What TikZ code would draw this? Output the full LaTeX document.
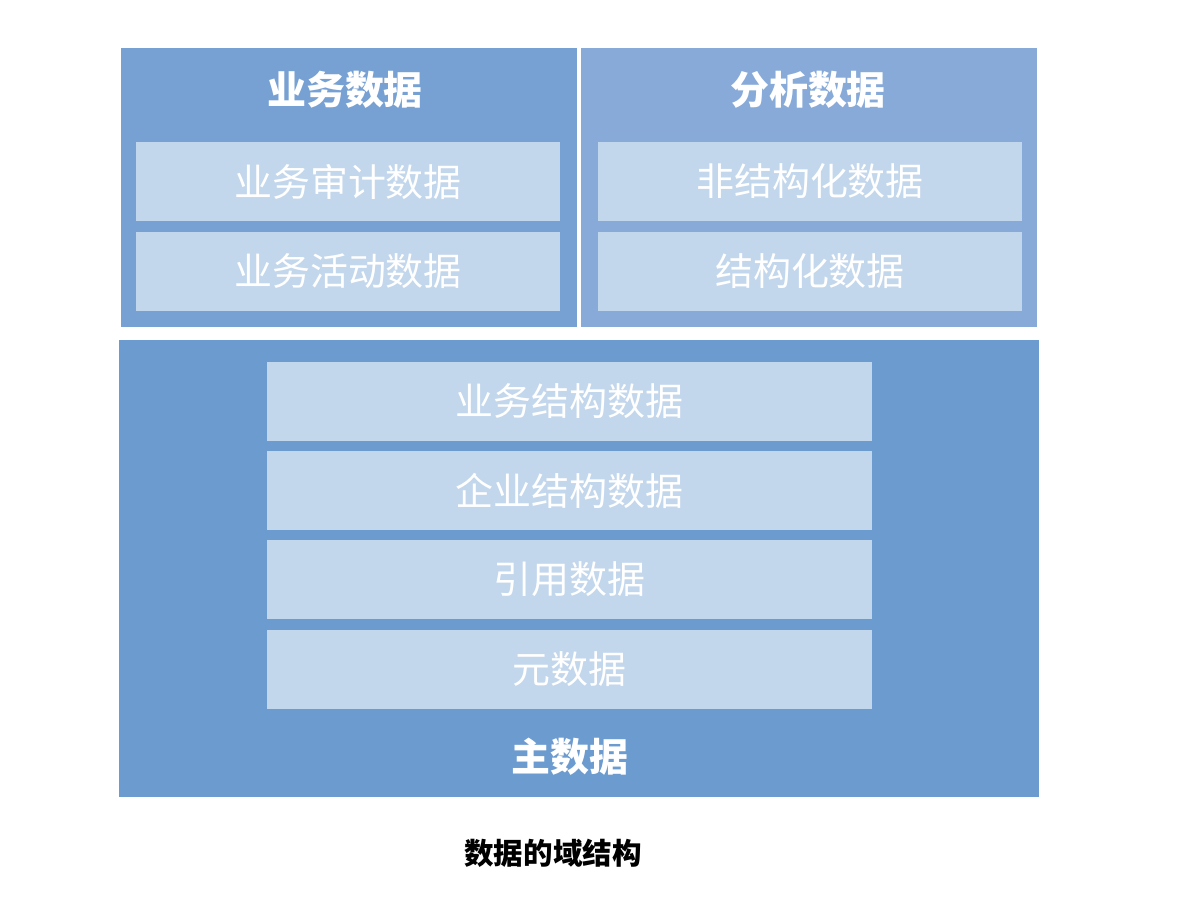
\documentclass[tikz,border=0pt]{standalone}
\usepackage{fontspec}
\setmainfont{Noto Sans CJK SC}
\begin{document}
\begin{tikzpicture}[x=0.025cm, y=-0.025cm]
        \definecolor{topleftblue}{HTML}{77A1D3}
        \definecolor{toprightblue}{HTML}{87AAD8}
        \definecolor{mainblue}{HTML}{6B9BCF}
        \definecolor{itemblue}{HTML}{C2D6EC}
        \tikzstyle{dom_box}   = [shape = rectangle, draw = none, inner sep = 0pt, minimum width = 11.4cm, minimum height = 6.975cm]
        \tikzstyle{dom_item}  = [shape = rectangle, draw = none, fill = itemblue, inner sep = 0pt, minimum width = 10.6cm, minimum height = 1.975cm, text = white, font = \fontsize{27}{30}\selectfont]
        \tikzstyle{main_item} = [dom_item, minimum width = 15.125cm]
        \tikzstyle{dom_title} = [text = white, font = \fontsize{27.7}{30}\selectfont\bfseries]

        \useasboundingbox (0, 0) rectangle (1200, 906);

        \node[dom_box, fill = topleftblue]  at (349.0, 187.5) (biz) {};
        \node[dom_title]                    at (345.0,  90.0) (biz_t) {业务数据};
        \node[dom_item]                     at (348.0, 181.5) (biz_i1) {业务审计数据};
        \node[dom_item]                     at (348.0, 271.5) (biz_i2) {业务活动数据};

        \node[dom_box, fill = toprightblue] at (809.0, 187.5) (ana) {};
        \node[dom_title]                    at (808.0,  90.0) (ana_t) {分析数据};
        \node[dom_item]                     at (810.0, 181.5) (ana_i1) {非结构化数据};
        \node[dom_item]                     at (810.0, 271.5) (ana_i2) {结构化数据};

        \node[dom_box, fill = mainblue, minimum width = 23cm, minimum height = 11.425cm]
                                            at (579.0, 568.5) (mst) {};
        \node[main_item]                    at (569.5, 401.5) (mst_i1) {业务结构数据};
        \node[main_item]                    at (569.5, 490.5) (mst_i2) {企业结构数据};
        \node[main_item]                    at (569.5, 579.5) (mst_i3) {引用数据};
        \node[main_item]                    at (569.5, 669.5) (mst_i4) {元数据};
        \node[dom_title]                    at (570.0, 757.0) (mst_t) {主数据};

        \node[font = \fontsize{21}{24}\selectfont\bfseries]
                                            at (553.0, 853.0) (caption) {数据的域结构};
      \end{tikzpicture}
\end{document}
